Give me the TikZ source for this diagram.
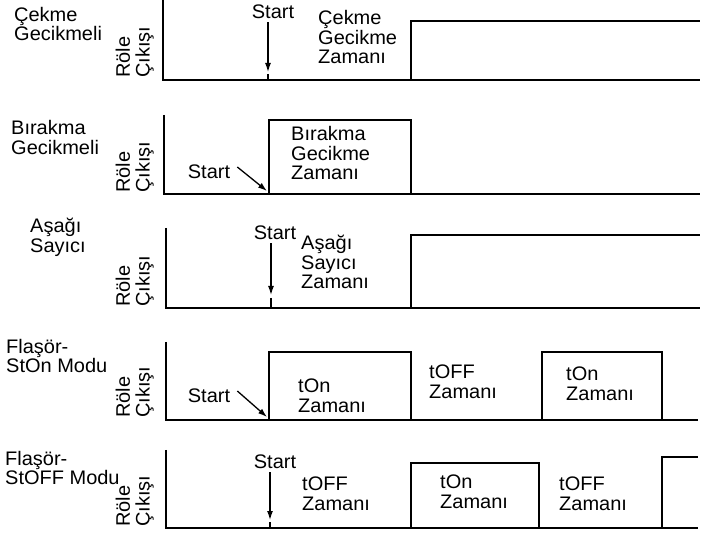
\documentclass[tikz,border=0pt]{standalone}
\usepackage{fontspec}
\setmainfont{Liberation Sans}[FakeStretch=1.02]
\usetikzlibrary{arrows.meta, positioning}

\begin{document}
\begin{tikzpicture}[
    x=1pt, y=-1pt,
    txt/.style={align=left, inner sep=0pt, font=\fontsize{19.6}{19.8}\selectfont},
    axis/.style={line width=1.3pt},
    signal/.style={line width=1.6pt},
    startarrow/.style={-{Latex[length=9pt, width=6pt]}, line width=1.3pt},
    relay/.style={txt, rotate=90, anchor=south west}
]
\useasboundingbox (0,0) rectangle (715,534);

\node[txt, anchor=west] (mode1) at (14,24) {Çekme\\Gecikmeli};
\node[relay] (out1) at (154,78) {Röle\\Çıkışı};
\draw[axis] (163,0) |- (700,80);
\draw[signal] (411,80) -- (411,21) -- (700,21);
\node[txt] (start1) at (273,12) {Start};
\coordinate (go1) at (268,72);
\draw[startarrow, shorten <=3pt] (start1.south -| go1) -- (go1);
\draw[axis] (go1) ++(0,2) -- ++(0,6);
\node[txt, anchor=west] (time1) at (318,37) {Çekme\\Gecikme\\Zamanı};

\node[txt, anchor=west] (mode2) at (11,137.5) {Bırakma\\Gecikmeli};
\node[relay] (out2) at (154,193) {Röle\\Çıkışı};
\draw[axis] (164,115) |- (700,194);
\draw[signal] (269,194) -- (269,120) -- (411,120) -- (411,194);
\node[txt] (start2) at (209,172) {Start};
\coordinate (go2) at (267,191);
\draw[startarrow] ([xshift=7pt, yshift=5pt]start2.east) -- (go2);
\node[txt, anchor=west] (time2) at (291,153) {Bırakma\\Gecikme\\Zamanı};

\node[txt, anchor=west] (mode3) at (30,237) {Aşağı\\Sayıcı};
\node[relay] (out3) at (154,307) {Röle\\Çıkışı};
\draw[axis] (166,228) |- (700,308);
\draw[signal] (411,308) -- (411,235) -- (700,235);
\node[txt] (start3) at (275,233) {Start};
\coordinate (go3) at (271,295);
\draw[startarrow, shorten <=3pt] (start3.south -| go3) -- (go3);
\draw[axis] (go3) ++(0,3) -- ++(0,10);
\node[txt, anchor=west] (time3) at (301,262) {Aşağı\\Sayıcı\\Zamanı};

\node[txt, anchor=west] (mode4) at (6,356) {Flaşör-\\StOn Modu};
\node[relay] (out4) at (154,418) {Röle\\Çıkışı};
\draw[axis] (166,342) |- (698,420);
\draw[signal] (269,420) -- (269,352) -- (411,352) -- (411,420);
\draw[signal] (542,420) -- (542,352) -- (662,352) -- (662,420);
\node[txt] (start4) at (209,396) {Start};
\coordinate (go4) at (267,417);
\draw[startarrow] ([xshift=7pt, yshift=5pt]start4.east) -- (go4);
\node[txt, anchor=west] (on4a) at (298,396) {tOn\\Zamanı};
\node[txt, anchor=west] (off4) at (429,382) {tOFF\\Zamanı};
\node[txt, anchor=west] (on4b) at (566,384) {tOn\\Zamanı};

\node[txt, anchor=west] (mode5) at (5,468) {Flaşör-\\StOFF Modu};
\node[relay] (out5) at (154,527) {Röle\\Çıkışı};
\draw[axis] (166,450) |- (698,528);
\draw[signal] (411,528) -- (411,463) -- (539,463) -- (539,528);
\draw[signal] (662,528) -- (662,457) -- (698,457);
\node[txt] (start5) at (275,462) {Start};
\coordinate (go5) at (270,520);
\draw[startarrow, shorten <=3pt] (start5.south -| go5) -- (go5);
\draw[axis] (go5) ++(0,2) -- ++(0,6);
\node[txt, anchor=west] (off5a) at (302,494) {tOFF\\Zamanı};
\node[txt, anchor=west] (on5) at (440,492) {tOn\\Zamanı};
\node[txt, anchor=west] (off5b) at (559,494) {tOFF\\Zamanı};
\end{tikzpicture}
\end{document}
